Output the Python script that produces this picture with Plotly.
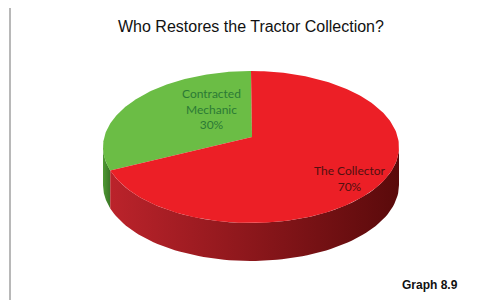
import numpy as np
import plotly.graph_objects as go

# ---- data ----
categories = ["Contracted<br>Mechanic", "The Collector"]
values = [30, 70]
title_text = "Who Restores the Tractor Collection?"
footer_text = "Graph 8.9"

# ---- style / geometry ----
top_colors = ["#6bbd45", "#ec1f26"]
side_grad = [["#4f9a34", "#3a7526"], ["#bb232b", "#5a0a0b"]]
label_colors = ["#2b7a35", "#521010"]
label_pos = [(211, 109), (350, 178)]
CX, CY, RX, RY, DEPTH = 251, 147, 148, 76, 38
VX, VY = 252, 137
OFF = 8  # page body margin
W, H = 491, 300
fig = go.Figure()

total = sum(values)
fracs = [v / total for v in values]
# slices start at 12 o'clock, going counter-clockwise (as reference)
starts = []
a = 90.0
for f in fracs:
    starts.append((a, a + 360 * f))
    a += 360 * f


def ept(t):
    r = np.radians(t)
    return CX + RX * np.cos(r), CY - RY * np.sin(r)

# sides (front half: 180..360 deg)
for (a0, a1), g in zip(starts, side_grad):
    segs = []
    for off in (0, 360, -360):
        lo, hi = max(a0 + off, 180), min(a1 + off, 360)
        if hi > lo:
            segs.append((lo, hi))
    for lo, hi in segs:
        t = np.linspace(lo, hi, 80)
        xs, ys = ept(t)
        px = np.concatenate([xs, xs[::-1]])
        py = np.concatenate([ys, (ys + DEPTH)[::-1]])
        fig.add_trace(go.Scatter(
            x=px, y=py, mode="lines", fill="toself", line=dict(width=0),
            fillgradient=dict(type="horizontal",
                              colorscale=[[0, g[0]], [1, g[1]]]),
            hoverinfo="skip", showlegend=False))

# top wedges
for (a0, a1), c in zip(starts, top_colors):
    t = np.linspace(a0, a1, 200)
    xs, ys = ept(t)
    px = np.concatenate([[VX], xs, [VX]])
    py = np.concatenate([[VY], ys, [VY]])
    fig.add_trace(go.Scatter(
        x=px, y=py, mode="lines", fill="toself", fillcolor=c,
        line=dict(width=0), hoverinfo="skip", showlegend=False))

annotations = []
for cat, f, (lx, ly), col in zip(categories, fracs, label_pos, label_colors):
    annotations.append(dict(
        x=lx, y=ly, xref="x", yref="y", showarrow=False,
        text=f"{cat}<br>{round(f * 100)}%", align="center",
        font=dict(family="Lato, Carlito, sans-serif", size=12, color=col)))

annotations.append(dict(
    x=251, y=26, xref="x", yref="y", showarrow=False, text=title_text,
    font=dict(family="Liberation Sans, Arial, sans-serif", size=16, color="#111")))
annotations.append(dict(
    x=430, y=285, xref="x", yref="y", showarrow=False,
    text=f"<b>{footer_text}</b>",
    font=dict(family="Liberation Sans Narrow, Liberation Sans, Arial", size=12, color="#111")))

fig.update_layout(
    width=W - OFF, height=H - OFF, margin=dict(l=0, r=0, t=0, b=0),
    paper_bgcolor="white", plot_bgcolor="white",
    xaxis=dict(range=[OFF, W], visible=False, fixedrange=True),
    yaxis=dict(range=[H, OFF], visible=False, fixedrange=True),
    annotations=annotations,
    shapes=[
        dict(type="line", xref="x", yref="y", x0=10, y0=5 + 0.0, x1=W + 5, y1=5,
             line=dict(color="#a0a0a0", width=1.5)),
        dict(type="line", xref="x", yref="y", x0=10, y0=5, x1=10, y1=H + 5,
             line=dict(color="#a0a0a0", width=1.5)),
    ],
)

fig.write_html("out.html")
